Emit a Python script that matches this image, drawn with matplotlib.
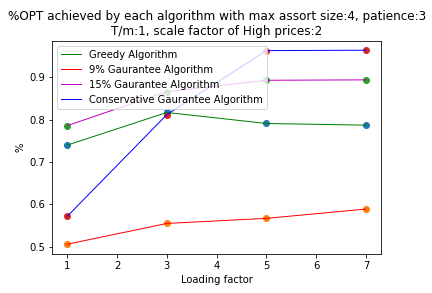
import matplotlib
matplotlib.use("Agg")
import matplotlib.pyplot as plt

loading = [1, 3, 5, 7]
greedy = [0.740, 0.817, 0.791, 0.787]
g9 = [0.506, 0.555, 0.567, 0.589]
g15 = [0.786, 0.866, 0.893, 0.894]
conservative = [0.572, 0.812, 0.963, 0.964]

L, R, B, T = 52.4, 380.9, 253.9, 40.5
fig = plt.figure(figsize=(6, 293/72), dpi=72)
ax = fig.add_axes([L/432, 1-B/293, (R-L)/432, (B-T)/293])

ax.plot(loading, greedy, color='g', linewidth=1, label='Greedy Algorithm')
ax.scatter(loading, greedy)
ax.plot(loading, g9, color='r', linewidth=1, label='9% Gaurantee Algorithm')
ax.scatter(loading, g9)
ax.plot(loading, g15, color='m', linewidth=1, label='15% Gaurantee Algorithm')
ax.scatter(loading, g15)
ax.plot(loading, conservative, color='b', linewidth=1, label='Conservative Gaurantee Algorithm')
ax.scatter(loading, conservative)

ax.set_title('%OPT achieved by each algorithm with max assort size:4, patience:3\nT/m:1, scale factor of High prices:2')
ax.set_xlabel('Loading factor')
ax.set_ylabel('%')
ax.legend(loc='upper left')

fig.savefig('out.png', dpi=72)
